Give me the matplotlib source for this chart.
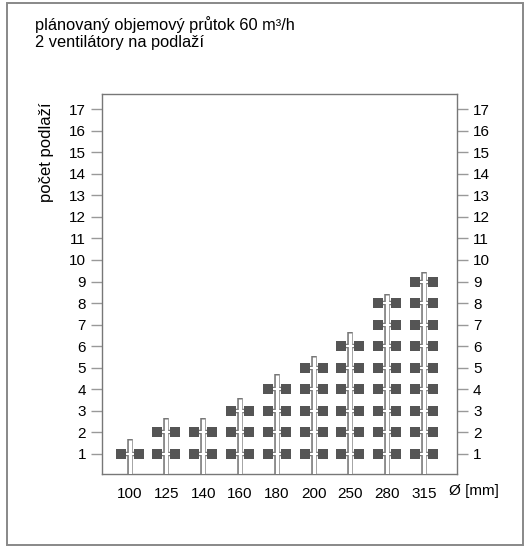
import numpy as np
import matplotlib.pyplot as plt
from matplotlib.patches import Rectangle

plt.rcParams["font.family"] = ["Liberation Sans", "DejaVu Sans"]

# -----------------------
# Data
# -----------------------
diameters = ["100", "125", "140", "160", "180", "200", "250", "280", "315"]
floors = [1, 2, 2, 3, 4, 5, 6, 8, 9]
pipe_tops = [1.69, 2.65, 2.65, 3.6, 4.7, 5.54, 6.64, 8.43, 9.44]
yticks = list(range(1, 18))

GRAY = "#777777"
SQUARE = "#555555"

fig = plt.figure(figsize=(5.28, 5.47), dpi=100)

# outer frame
fig.patches.append(Rectangle((7 / 528, 2 / 547), 516 / 528, 542 / 547,
                             transform=fig.transFigure, fill=False,
                             edgecolor="#888888", linewidth=1.4))

fig.text(35 / 528, 1 - 25 / 547, "plánovaný objemový průtok 60 m³/h",
         fontsize=11.8, va="center", ha="left")
fig.text(35 / 528, 1 - 42 / 547, "2 ventilátory na podlaží",
         fontsize=11.8, va="center", ha="left")

ax = fig.add_axes([102 / 528, 73 / 547, 355 / 528, 380 / 547])
x = np.arange(len(diameters))
off = 0.245

for xi, n, top in zip(x, floors, pipe_tops):
    # vertical pipe (outlined)
    ax.plot([xi, xi], [0, top], color=GRAY, lw=4, solid_capstyle="butt", zorder=2)
    ax.plot([xi, xi], [0, top - 0.05], color="white", lw=2.4, solid_capstyle="butt", zorder=4)
    levels = np.arange(1, n + 1)
    for lv in levels:
        ax.plot([xi - off, xi + off], [lv, lv], color=GRAY, lw=3.2,
                solid_capstyle="butt", zorder=3)
        ax.plot([xi - off, xi + off], [lv, lv], color="white", lw=1.5,
                solid_capstyle="butt", zorder=5)
    ax.scatter(np.full(n, xi - off), levels, marker="s", s=42, color=SQUARE,
               linewidths=0, zorder=6)
    ax.scatter(np.full(n, xi + off), levels, marker="s", s=42, color=SQUARE,
               linewidths=0, zorder=6)

ax.set_xlim(-0.75, 8.9)
ax.set_ylim(0.07, 17.7)
ax.set_xticks(x)
ax.set_xticklabels(diameters)
ax.set_yticks(yticks)
ax.tick_params(axis="x", length=0, pad=9, labelsize=11)
ax.tick_params(axis="y", length=8, width=1, color="#999999", pad=3.5,
               labelsize=11, left=True, right=True, labelleft=True, labelright=True)
for s in ax.spines.values():
    s.set_color(GRAY)
    s.set_linewidth(1)

fig.text(474 / 528, 1 - 491 / 547, "Ø [mm]", fontsize=11, ha="center", va="center")
fig.text(47 / 528, 1 - 152 / 547, "počet podlaží", fontsize=12, rotation=90,
         ha="center", va="center")

plt.savefig("out.png", dpi=100)
plt.close()
